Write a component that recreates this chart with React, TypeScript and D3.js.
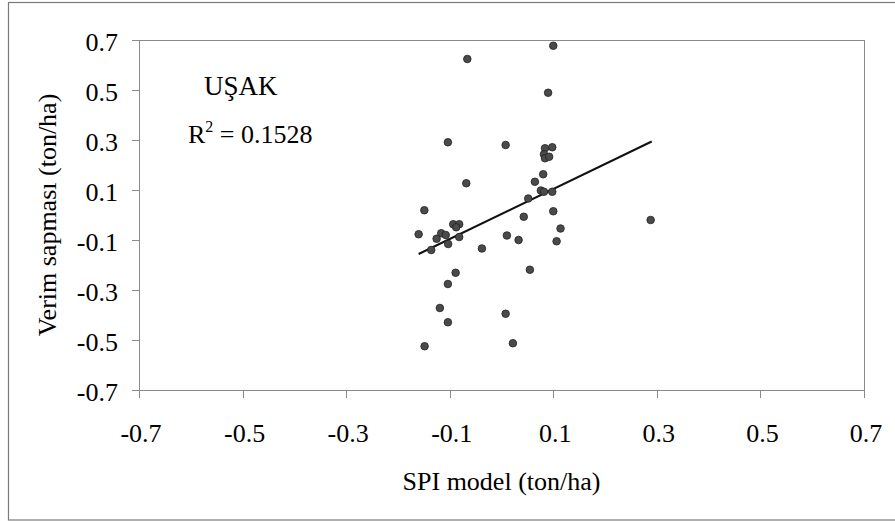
import * as d3 from "d3";
import { useMemo } from "react";

// SPI model (x) vs. yield deviation (y), both in ton/ha
const spiModel = [
  0.1, -0.066, 0.09, -0.1035, 0.008, 0.084, 0.098, 0.082, 0.084, 0.092,
  0.0805, 0.0645, -0.068, 0.076, 0.082, 0.098, 0.0516, -0.149, 0.1, 0.288,
  0.043, -0.16, -0.0932, -0.0817, -0.0875, -0.1164, -0.1077, -0.1253, -0.103, -0.0817,
  -0.1357, -0.0378, 0.0104, 0.033, 0.114, 0.1064, 0.0548, -0.0886, -0.1035, -0.119,
  0.008, -0.1035, 0.022, -0.1485,
];
const verimSapmasi = [
  0.677, 0.624, 0.489, 0.291, 0.28, 0.267, 0.271, 0.243, 0.227, 0.233,
  0.163, 0.133, 0.127, 0.098, 0.093, 0.093, 0.066, 0.019, 0.015, -0.02,
  -0.007, -0.077, -0.037, -0.037, -0.049, -0.073, -0.08, -0.095, -0.116, -0.088,
  -0.14, -0.134, -0.082, -0.1, -0.054, -0.105, -0.219, -0.231, -0.276, -0.372,
  -0.395, -0.429, -0.513, -0.525,
];

// linear trend line
const trendRange = [-0.16, 0.29];
const trendSlope = 1.0;
const trendIntercept = 0.004;

const tickValues = [-0.7, -0.5, -0.3, -0.1, 0.1, 0.3, 0.5, 0.7];

const stationName = "UŞAK";
const rSquared = "0.1528";
const xTitle = "SPI model (ton/ha)";
const yTitle = "Verim sapması (ton/ha)";

export default function App() {
  const width = 895;
  const height = 521;
  const plot = { left: 139, right: 864, top: 40, bottom: 390 };
  const font = "'Liberation Serif', 'Times New Roman', serif";

  const xScale = useMemo(
    () => d3.scaleLinear().domain([-0.7, 0.7]).range([plot.left, plot.right]),
    []
  );
  const yScale = useMemo(
    () => d3.scaleLinear().domain([-0.7, 0.7]).range([plot.bottom, plot.top]),
    []
  );

  const points = spiModel.map((x, i) => ({ x, y: verimSapmasi[i] }));

  const trendPath = d3
    .line<number>()
    .x(d => xScale(d))
    .y(d => yScale(trendSlope * d + trendIntercept))(trendRange);

  const fmt = (v: number) => (v < 0 ? "-" : "") + Math.abs(v).toFixed(1);

  return (
    <svg
      width={width}
      height={height}
      style={{ position: "absolute", left: 0, top: 0, background: "#fff" }}
      fontFamily={font}
    >
      {/* outer chart border */}
      <rect x={8.5} y={2.5} width={900} height={517.5} fill="none" stroke="#7a7a7a" strokeWidth={1.2} />

      {/* plot frame */}
      <rect
        x={plot.left + 0.5}
        y={plot.top + 0.5}
        width={plot.right - plot.left}
        height={plot.bottom - plot.top}
        fill="none"
        stroke="#8a8a8a"
        strokeWidth={1}
      />

      {tickValues.map(t => (
        <g key={"y" + t}>
          <line
            x1={plot.left - 7}
            x2={plot.left}
            y1={Math.round(yScale(t)) + 0.5}
            y2={Math.round(yScale(t)) + 0.5}
            stroke="#8a8a8a"
          />
          <text x={118} y={yScale(t) + 11} textAnchor="end" fontSize={26} fill="#000">
            {fmt(t)}
          </text>
        </g>
      ))}

      {tickValues.map(t => (
        <g key={"x" + t}>
          <line
            x1={Math.round(xScale(t)) + 0.5}
            x2={Math.round(xScale(t)) + 0.5}
            y1={plot.bottom}
            y2={plot.bottom + 8}
            stroke="#8a8a8a"
          />
          <text x={xScale(t) + 2} y={442} textAnchor="middle" fontSize={26} fill="#000">
            {fmt(t)}
          </text>
        </g>
      ))}

      <path d={trendPath ?? ""} fill="none" stroke="#111" strokeWidth={2} />

      {points.map((p, i) => (
        <circle
          key={i}
          cx={xScale(p.x)}
          cy={yScale(p.y)}
          r={3.8}
          fill="#4a4a4a"
          stroke="#222"
          strokeWidth={0.8}
        />
      ))}

      <text x={204} y={95} fontSize={27} fill="#000">
        {stationName}
      </text>
      <text x={188} y={143} fontSize={26} fill="#000">
        R
        <tspan fontSize={16} dy={-11}>2</tspan>
        <tspan dy={11}> = {rSquared}</tspan>
      </text>

      <text x={(plot.left + plot.right) / 2} y={490} textAnchor="middle" fontSize={26} fill="#000">
        {xTitle}
      </text>
      <text
        transform={`translate(56, ${(plot.top + plot.bottom) / 2}) rotate(-90)`}
        textAnchor="middle"
        fontSize={26}
        fill="#000"
      >
        {yTitle}
      </text>
    </svg>
  );
}
